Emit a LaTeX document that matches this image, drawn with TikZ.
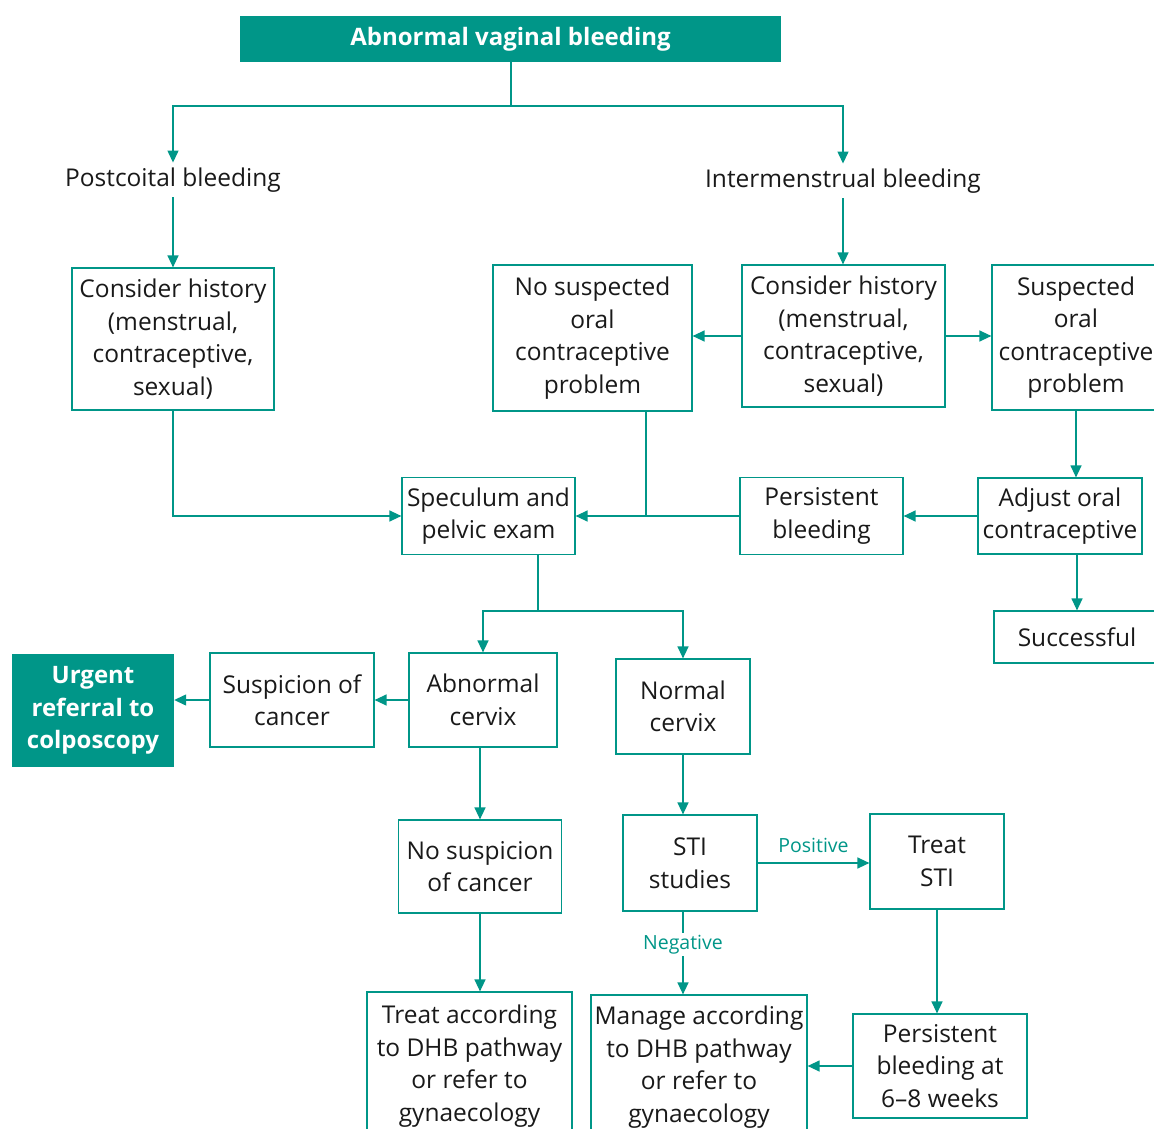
\documentclass[tikz,border=0pt]{standalone}
\usepackage{fontspec}
\setmainfont{Open Sans}
\usetikzlibrary{arrows.meta}
\definecolor{tealmain}{RGB}{0,150,136}
\begin{document}
\begin{tikzpicture}[x=1pt, y=-1pt,
    box/.style={draw=tealmain, line width=1.2pt, align=center, inner sep=0pt, text=black!90, font=\fontsize{24.5}{32.5}\selectfont},
    keybox/.style={fill=tealmain, align=center, inner sep=0pt, text=white, font=\fontsize{24}{32.5}\selectfont\bfseries},
    plain/.style={inner sep=5pt, text=black!90, font=\fontsize{24.5}{32.5}\selectfont},
    flow/.style={draw=tealmain, line width=1.3pt, -{Triangle[width=11pt,length=12pt]}},
    link/.style={draw=tealmain, line width=1.3pt},
    tag/.style={text=tealmain, inner sep=2pt, font=\fontsize{19.5}{22}\selectfont}]
    \useasboundingbox (0,0) rectangle (1154,1129);

    % Starting point
    \node[keybox, minimum width=541pt, minimum height=46pt] (start) at (510.5,39) {Abnormal vaginal bleeding};

    % Two kinds of bleeding
    \node[plain] (post) at (173,180) {Postcoital bleeding};
    \node[plain] (inter) at (843,181) {Intermenstrual bleeding};

    % History boxes
    \node[box, minimum width=202pt, minimum height=142pt] (histA) at (173,339) {Consider history\\(menstrual,\\contraceptive,\\sexual)};
    \node[box, minimum width=203pt, minimum height=142pt] (histB) at (843.5,336) {Consider history\\(menstrual,\\contraceptive,\\sexual)};
    \node[box, minimum width=199pt, minimum height=146pt] (noPill) at (592.5,338) {No suspected\\oral\\contraceptive\\problem};
    \node[box, minimum width=168pt, minimum height=145pt] (pill) at (1076,337.5) {Suspected\\oral\\contraceptive\\problem};

    % Exam row
    \node[box, minimum width=173pt, minimum height=77pt] (exam) at (488.5,516) {Speculum and\\pelvic exam};
    \node[box, minimum width=163pt, minimum height=77pt] (persist) at (821.5,516) {Persistent\\bleeding};
    \node[box, minimum width=164pt, minimum height=76pt] (adjust) at (1060,516) {Adjust oral\\contraceptive};
    \node[box, minimum width=166pt, minimum height=52pt] (success) at (1077,637) {Successful};

    % Cervix findings
    \node[keybox, minimum width=162pt, minimum height=113pt] (urgent) at (93,710.5) {Urgent\\referral to\\colposcopy};
    \node[box, minimum width=164pt, minimum height=94pt] (cancer) at (292,700) {Suspicion of\\cancer};
    \node[box, minimum width=148pt, minimum height=94pt] (abnormal) at (483,700) {Abnormal\\cervix};
    \node[box, minimum width=134pt, minimum height=95pt] (normal) at (683,706.5) {Normal\\cervix};

    % Follow up
    \node[box, minimum width=163pt, minimum height=93pt] (noCancer) at (480,866.5) {No suspicion\\of cancer};
    \node[box, minimum width=134pt, minimum height=96pt] (sti) at (690,863) {STI\\studies};
    \node[box, minimum width=134pt, minimum height=95pt] (treatSti) at (937,861.5) {Treat\\STI};

    % Bottom row
    \node[box, minimum width=205pt, minimum height=148pt] (treatDhb) at (469.5,1066) {Treat according\\to DHB pathway\\or refer to\\gynaecology};
    \node[box, minimum width=216pt, minimum height=144pt] (manage) at (699,1067) {Manage according\\to DHB pathway\\or refer to\\gynaecology};
    \node[box, minimum width=174pt, minimum height=104pt] (persist68) at (940,1066) {Persistent\\bleeding at\\6--8 weeks};

    % Junctions
    \coordinate (splitTop) at (511,106);
    \coordinate (merge) at (646,516);
    \coordinate (splitExam) at (538,611);

    % Arrows from the top
    \draw[link] (start.south -| splitTop) -- (splitTop);
    \draw[flow] (splitTop) -| (post.north);
    \draw[flow] (splitTop) -| (inter.north);
    \draw[flow] (post.south) -- (histA.north);
    \draw[flow] (inter.south) -- (inter.south |- histB.north);
    \draw[flow] (histB.west) -- (histB.west -| noPill.east);
    \draw[flow] (histB.east) -- (histB.east -| pill.west);

    % Into the exam
    \draw[flow] (histA.south) |- (exam.west);
    \draw[link] (merge |- noPill.south) -- (merge);
    \draw[flow] (persist.west) -- (exam.east);
    \draw[flow] (adjust.west) -- (persist.east);
    \draw[flow] (pill.south) -- (pill.south |- adjust.north);
    \draw[flow] (success.north |- adjust.south) -- (success.north);

    % Out of the exam
    \draw[link] (exam.south -| splitExam) -- (splitExam);
    \draw[flow] (splitExam) -| (abnormal.north);
    \draw[flow] (splitExam) -| (normal.north);
    \draw[flow] (abnormal.west) -- (cancer.east);
    \draw[flow] (cancer.west) -- (cancer.west -| urgent.east);
    \draw[flow] (abnormal.south -| noCancer.north) -- (noCancer.north);
    \draw[flow] (normal.south) -- (normal.south |- sti.north);

    % STI results
    \draw[flow] (sti.east) -- node[tag, above=8pt] {Positive} (sti.east -| treatSti.west);
    \draw[flow] (sti.south -| normal.south) -- node[tag, fill=white, pos=0.4] {Negative} (normal.south |- manage.north);
    \draw[flow] (noCancer.south) -- (noCancer.south |- treatDhb.north);
    \draw[flow] (treatSti.south) -- (treatSti.south |- persist68.north);
    \draw[flow] (persist68.west) -- (persist68.west -| manage.east);
  \end{tikzpicture}
\end{document}
